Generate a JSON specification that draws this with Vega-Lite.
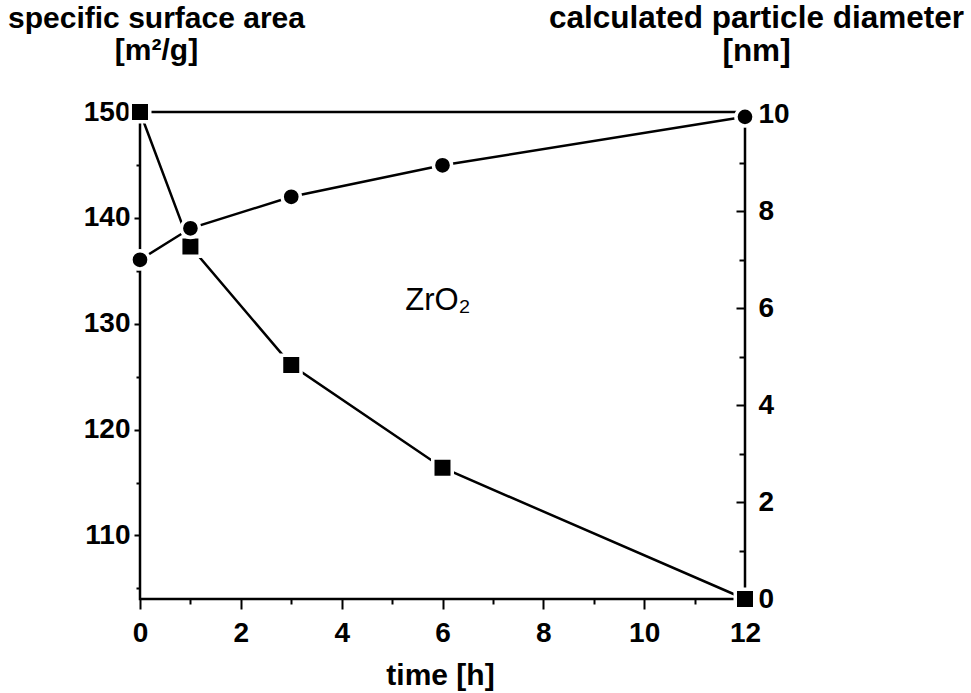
{
  "$schema": "https://vega.github.io/schema/vega-lite/v6.json",
  "width": 605,
  "height": 487,
  "autosize": {"type": "none"},
  "padding": {"left": 140, "top": 112, "right": 226, "bottom": 94},
  "background": "white",
  "config": {
    "view": {"stroke": "black", "strokeWidth": 2.5},
    "font": "Liberation Sans",
    "axis": {
      "labelFont": "Liberation Sans",
      "labelFontWeight": "bold",
      "labelFontSize": 28,
      "labelColor": "black",
      "tickColor": "black",
      "tickWidth": 2,
      "domain": false,
      "grid": false,
      "labelOverlap": false,
      "labelFlush": false,
      "titleFont": "Liberation Sans",
      "titleFontWeight": "bold",
      "titleFontSize": 30,
      "titleColor": "black"
    }
  },
  "datasets": {
    "area": [
      {"time": 0, "area": 150},
      {"time": 1, "area": 137.3},
      {"time": 3, "area": 126.1},
      {"time": 6, "area": 116.4},
      {"time": 12, "area": 104}
    ],
    "diam": [
      {"time": 0, "diameter": 7.0},
      {"time": 1, "diameter": 7.65},
      {"time": 3, "diameter": 8.3},
      {"time": 6, "diameter": 8.95},
      {"time": 12, "diameter": 9.95}
    ],
    "note": [
      {"time": 5.26, "area": 131.3, "label": "ZrO₂"}
    ]
  },
  "layer": [
    {
      "data": {"name": "area"},
      "mark": {"type": "line", "color": "black", "strokeWidth": 2.5},
      "encoding": {
        "x": {
          "field": "time", "type": "quantitative",
          "scale": {"domain": [0, 12], "nice": false, "zero": false},
          "axis": {
            "orient": "bottom", "values": [0, 2, 4, 6, 8, 10, 12],
            "tickSize": 10, "labelPadding": 10,
            "title": "time [h]", "titleBaseline": "alphabetic", "titleY": 85, "titleX": 300
          }
        },
        "y": {
          "field": "area", "type": "quantitative",
          "scale": {"domain": [104, 150], "nice": false, "zero": false},
          "axis": {
            "orient": "left", "values": [110, 120, 130, 140, 150],
            "tickSize": 6, "labelPadding": 4,
            "title": ["specific surface area", "[m²/g]"],
            "titleAngle": 0, "titleAlign": "center", "titleBaseline": "alphabetic",
            "titleX": 16, "titleY": -85, "titleLineHeight": 32
          }
        }
      }
    },
    {
      "data": {"name": "area"},
      "mark": {"type": "point", "shape": "square", "filled": true, "fill": "black", "stroke": "white", "strokeWidth": 3.5, "opacity": 1, "size": 380},
      "encoding": {
        "x": {
          "field": "time", "type": "quantitative",
          "axis": {"orient": "bottom", "values": [1, 3, 5, 7, 9, 11], "tickSize": 5, "labels": false, "title": null}
        },
        "y": {
          "field": "area", "type": "quantitative",
          "scale": {"domain": [104, 150], "nice": false, "zero": false},
          "axis": {"orient": "left", "values": [105, 115, 125, 135, 145], "tickSize": 4, "labels": false, "title": null}
        }
      }
    },
    {
      "data": {"name": "diam"},
      "mark": {"type": "line", "color": "black", "strokeWidth": 2.5},
      "encoding": {
        "x": {"field": "time", "type": "quantitative", "axis": null},
        "y": {
          "field": "diameter", "type": "quantitative",
          "scale": {"domain": [0, 10.05], "nice": false, "zero": false},
          "axis": {
            "orient": "right", "values": [0, 2, 4, 6, 8, 10],
            "tickSize": -9, "labelPadding": 22,
            "title": ["calculated particle diameter", "[nm]"],
            "titleAngle": 0, "titleAlign": "center", "titleBaseline": "alphabetic",
            "titleFontSize": 31.5,
            "titleX": 11, "titleY": -85, "titleLineHeight": 33
          }
        }
      }
    },
    {
      "data": {"name": "diam"},
      "mark": {"type": "point", "shape": "circle", "filled": true, "fill": "black", "stroke": "white", "strokeWidth": 3.5, "opacity": 1, "size": 330},
      "encoding": {
        "x": {"field": "time", "type": "quantitative", "axis": null},
        "y": {
          "field": "diameter", "type": "quantitative",
          "scale": {"domain": [0, 10.05], "nice": false, "zero": false},
          "axis": {"orient": "right", "values": [1, 3, 5, 7, 9], "tickSize": -6, "labels": false, "title": null}
        }
      }
    },
    {
      "data": {"name": "note"},
      "mark": {"type": "text", "align": "left", "baseline": "alphabetic", "font": "Liberation Sans", "fontSize": 31, "color": "black"},
      "encoding": {
        "x": {"field": "time", "type": "quantitative", "axis": null},
        "y": {
          "field": "area", "type": "quantitative",
          "scale": {"domain": [104, 150], "nice": false, "zero": false},
          "axis": null
        },
        "text": {"field": "label"}
      }
    }
  ],
  "resolve": {
    "scale": {"y": "independent"},
    "axis": {"x": "independent", "y": "independent"}
  }
}
